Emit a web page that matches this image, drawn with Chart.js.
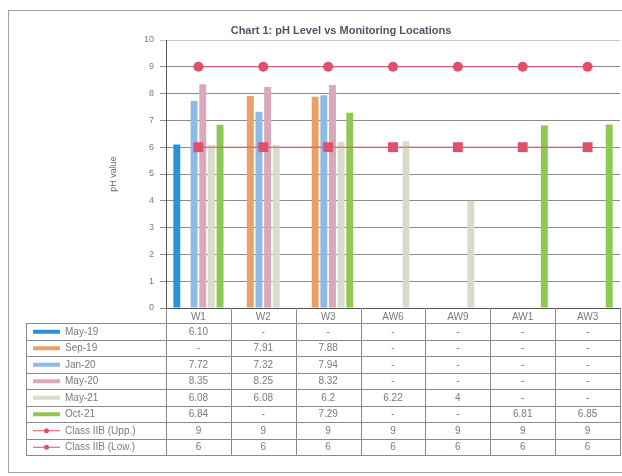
<!DOCTYPE html>
<html>
<head>
<meta charset="utf-8">
<script src="https://cdn.jsdelivr.net/npm/chart.js@4/dist/chart.umd.min.js"></script>
<style>
  html, body { margin: 0; padding: 0; background: #fff; }
  #wrap { width: 622px; height: 476px; position: relative; }
</style>
</head>
<body>
<div id="wrap"><canvas id="c" width="622" height="476"></canvas></div>
<script>
// Monitoring locations and pH readings per sampling round
const locations = ['W1', 'W2', 'W3', 'AW6', 'AW9', 'AW1', 'AW3'];
const may19 = [6.10, null, null, null, null, null, null];
const sep19 = [null, 7.91, 7.88, null, null, null, null];
const jan20 = [7.72, 7.32, 7.94, null, null, null, null];
const may20 = [8.35, 8.25, 8.32, null, null, null, null];
const may21 = [6.08, 6.08, 6.2, 6.22, 4, null, null];
const oct21 = [6.84, null, 7.29, null, null, 6.81, 6.85];
const classUpper = [9, 9, 9, 9, 9, 9, 9];
const classLower = [6, 6, 6, 6, 6, 6, 6];
const yTicks = [0, 1, 2, 3, 4, 5, 6, 7, 8, 9, 10];

const RED = '#e0506a';
const FONT = "'Liberation Sans', Arial, sans-serif";

function bar(label, data, color, digits) {
  return {
    type: 'bar', label, data, backgroundColor: color, borderWidth: 0,
    categoryPercentage: 0.8, barPercentage: 0.8, order: 2, digits
  };
}
function line(label, data, style, radius) {
  return {
    type: 'line', label, data, borderColor: RED, borderWidth: 1,
    pointStyle: style, pointRadius: radius, pointHoverRadius: radius,
    pointBackgroundColor: RED, pointBorderWidth: 0, fill: false, order: 0
  };
}

const datasets = [
  bar('May-19', may19, '#2a93d8', 2),
  bar('Sep-19', sep19, '#e9a164'),
  bar('Jan-20', jan20, '#8dbbe8'),
  bar('May-20', may20, '#d9a9bb'),
  bar('May-21', may21, '#d7dccb'),
  bar('Oct-21', oct21, '#8fc853'),
  line('Class IIB (Upp.)', classUpper, 'circle', 5),
  line('Class IIB (Low.)', classLower, 'rect', 7)
];

// Frame, title and the data table under the x axis
const decor = {
  id: 'decor',
  beforeDraw(chart) {
    const ctx = chart.ctx;
    ctx.save();
    ctx.fillStyle = '#fff';
    ctx.fillRect(0, 0, chart.width, chart.height);
    ctx.strokeStyle = '#a0a0a0';
    ctx.lineWidth = 1;
    ctx.strokeRect(8.5, 10.5, 640, 462);
    ctx.restore();
  },
  afterDraw(chart) {
    const ctx = chart.ctx;
    const xs = chart.scales.x;
    const area = chart.chartArea;
    const n = locations.length;
    const colW = (area.right - area.left) / n;
    const top = area.bottom;
    const headH = 15;
    const rowH = 16.5;
    const tableLeft = 26;
    const rowsTop = top + headH;
    const bottom = rowsTop + rowH * datasets.length;

    ctx.save();
    // title
    ctx.fillStyle = '#4a5868';
    ctx.font = 'bold 11px ' + FONT;
    ctx.textAlign = 'center';
    ctx.textBaseline = 'middle';
    ctx.fillText('Chart 1: pH Level vs Monitoring Locations', 341, 31);

    // table grid
    ctx.strokeStyle = '#8a8a8a';
    ctx.lineWidth = 1;
    ctx.beginPath();
    for (let i = 0; i <= n; i++) {
      const x = Math.round(area.left + colW * i) + 0.5;
      ctx.moveTo(x, top);
      ctx.lineTo(x, bottom);
    }
    ctx.moveTo(tableLeft + 0.5, rowsTop);
    ctx.lineTo(tableLeft + 0.5, bottom);
    for (let r = 0; r <= datasets.length; r++) {
      const y = Math.round(rowsTop + rowH * r) + 0.5;
      ctx.moveTo(tableLeft, y);
      ctx.lineTo(area.right + 1, y);
    }
    ctx.stroke();

    // rows: legend key, series name, values
    ctx.font = '10px ' + FONT;
    datasets.forEach((ds, r) => {
      const cy = rowsTop + rowH * r + rowH / 2 + 0.5;
      if (ds.type === 'bar') {
        ctx.fillStyle = ds.backgroundColor;
        ctx.fillRect(33, cy - 2, 27, 4);
      } else {
        ctx.strokeStyle = RED;
        ctx.lineWidth = 1;
        ctx.beginPath();
        ctx.moveTo(33, cy);
        ctx.lineTo(60, cy);
        ctx.stroke();
        ctx.fillStyle = RED;
        ctx.beginPath();
        ctx.arc(46.5, cy, 2.5, 0, Math.PI * 2);
        ctx.fill();
      }
      ctx.fillStyle = '#7a7a7a';
      ctx.textAlign = 'left';
      ctx.fillText(ds.label, 65, cy);
      ctx.textAlign = 'center';
      ds.data.forEach((v, i) => {
        const x = xs.getPixelForValue(i);
        const txt = v === null ? '-' : (ds.digits ? v.toFixed(ds.digits) : String(v));
        ctx.fillText(txt, x, cy);
      });
    });
    ctx.restore();
  }
};

new Chart(document.getElementById('c'), {
  type: 'bar',
  data: { labels: locations, datasets },
  options: {
    responsive: false,
    animation: false,
    devicePixelRatio: 1,
    layout: { autoPadding: false, padding: { left: 100, right: 2, top: 40, bottom: 0 } },
    plugins: {
      legend: { display: false },
      tooltip: { enabled: false },
      title: { display: false }
    },
    scales: {
      x: {
        afterFit: s => { s.height = 168; },
        grid: { display: false, drawTicks: false },
        border: { display: true, color: '#555', width: 1 },
        ticks: { color: '#7a7a7a', font: { family: FONT, size: 10 }, padding: 3, maxRotation: 0 }
      },
      y: {
        min: 0, max: 10,
        afterFit: s => { s.width = 66; },
        afterBuildTicks: s => { s.ticks = yTicks.map(v => ({ value: v })); },
        grid: {
          color: c => (c.tick && c.tick.value === 10 ? '#c4c4c4' : '#8c8c8c'),
          lineWidth: 1, tickLength: 6
        },
        border: { display: true, color: '#555', width: 1 },
        ticks: { color: '#7a7a7a', font: { family: FONT, size: 9 }, padding: 6 },
        title: { display: true, text: 'pH value', color: '#6a6a6a', font: { family: FONT, size: 9 }, padding: { top: 8, bottom: 0 } }
      }
    }
  },
  plugins: [decor]
});
</script>
</body>
</html>
